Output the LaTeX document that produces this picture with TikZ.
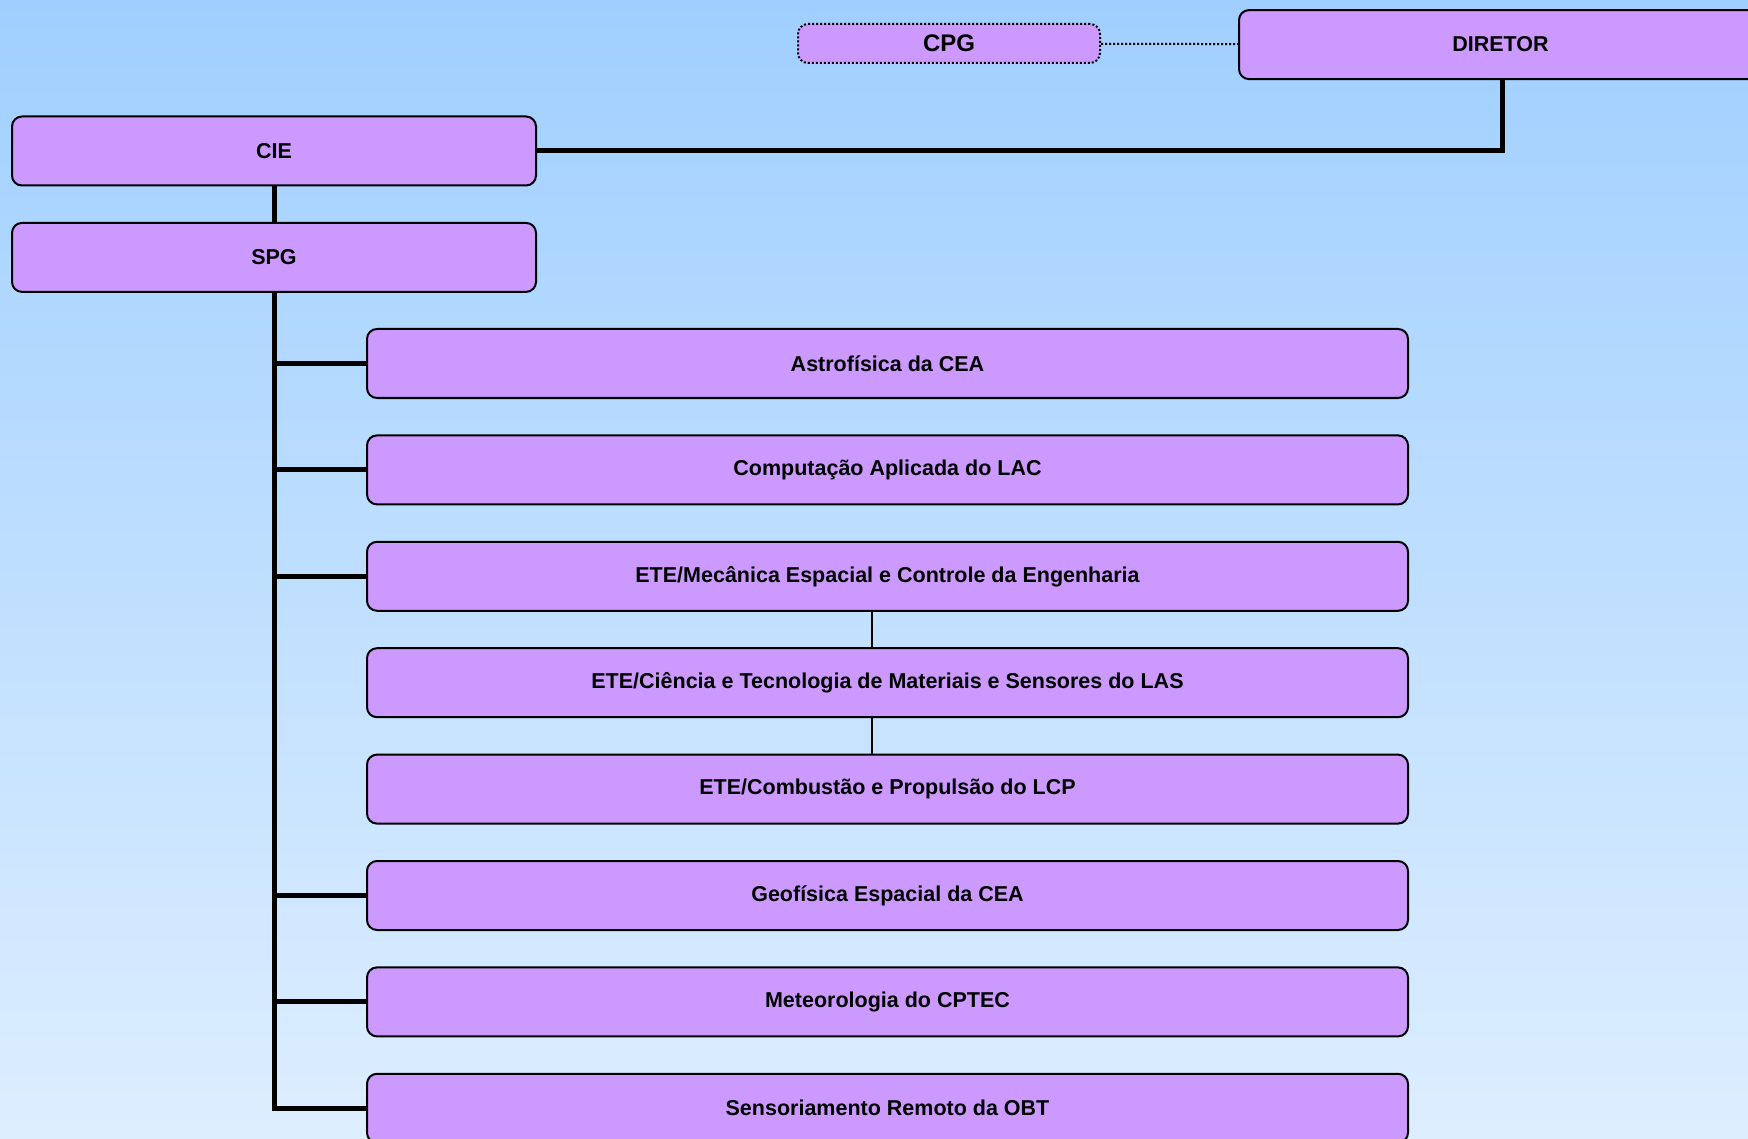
\documentclass[tikz,border=0pt]{standalone}
\usepackage{fontspec}
\setmainfont{Liberation Sans}
\usetikzlibrary{positioning}

\definecolor{boxfill}{HTML}{CC99FF}
\definecolor{bgtop}{HTML}{A0CFFF}
\definecolor{bgbottom}{HTML}{DDEEFF}

\begin{document}
\begin{tikzpicture}[
  x=1pt, y=-1pt,
  unit/.style={draw, line width=2pt, rounded corners=10pt, fill=boxfill, minimum height=69pt,
    inner sep=0pt, font=\fontsize{21.5}{25}\selectfont\bfseries},
  course/.style={unit, minimum width=1041pt},
  trunk/.style={line width=5pt},
  link/.style={line width=1.5pt}
]

\fill[top color=bgtop, bottom color=bgbottom] (0,0) rectangle (1748,1139);
\useasboundingbox (0,0) rectangle (1748,1139);

\node[unit, minimum width=523pt, anchor=west] (diretor) at (1238,44.6) {DIRETOR};
\node[unit, dotted, minimum width=302pt, minimum height=39pt, font=\fontsize{24}{28}\selectfont\bfseries] (cpg) at (949,43.5) {CPG};
\node[unit, minimum width=524pt] (cie) at (274,151) {CIE};
\node[unit, minimum width=524pt, below=35.4pt of cie] (spg) {SPG};

\node[course, anchor=north west] (astro) at (366,328) {Astrofísica da CEA};
\node[course, below=35.4pt of astro] (comp) {Computação Aplicada do LAC};
\node[course, below=35.4pt of comp] (mec) {ETE/Mecânica Espacial e Controle da Engenharia};
\node[course, below=35.4pt of mec] (materiais) {ETE/Ciência e Tecnologia de Materiais e Sensores do LAS};
\node[course, below=35.4pt of materiais] (combustao) {ETE/Combustão e Propulsão do LCP};
\node[course, below=35.4pt of combustao] (geo) {Geofísica Espacial da CEA};
\node[course, below=35.4pt of geo] (meteo) {Meteorologia do CPTEC};
\node[course, below=35.4pt of meteo] (sensor) {Sensoriamento Remoto da OBT};

% upper part
\draw[dotted, line width=2pt] (cpg) -- (diretor);
\draw[trunk] ([xshift=1.5pt]diretor.south) |- (cie.east);
\draw[trunk] (cie) -- (spg);

% spg to courses
\draw[trunk] (spg.south) |- (sensor.west);
\draw[trunk] (astro.west) -- (astro.west -| spg.south);
\draw[trunk] (comp.west) -- (comp.west -| spg.south);
\draw[trunk] (mec.west) -- (mec.west -| spg.south);
\draw[trunk] (geo.west) -- (geo.west -| spg.south);
\draw[trunk] (meteo.west) -- (meteo.west -| spg.south);

\draw[link] ([xshift=-15.5pt]mec.south) -- ([xshift=-15.5pt]materiais.north);
\draw[link] ([xshift=-15.5pt]materiais.south) -- ([xshift=-15.5pt]combustao.north);
\end{tikzpicture}
\end{document}
